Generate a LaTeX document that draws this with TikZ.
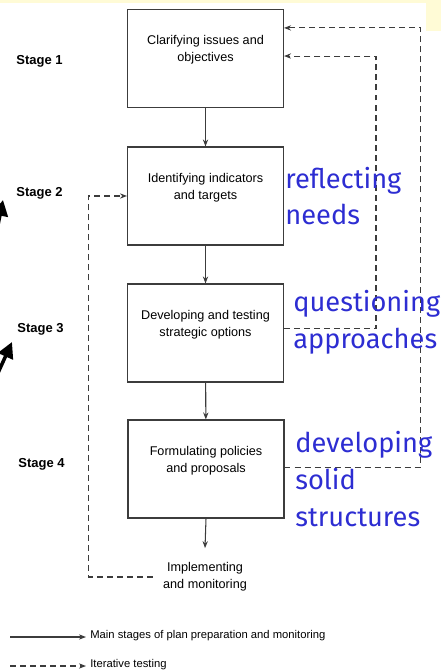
\documentclass[tikz,border=0pt]{standalone}
\usepackage{fontspec}
\setmainfont{Liberation Sans}
\newfontfamily\notefont{Fira Sans}
\usetikzlibrary{arrows.meta, calc, positioning}
\definecolor{inkgray}{RGB}{60,60,60}
\definecolor{noteblue}{RGB}{45,45,210}
\definecolor{slideyellow}{RGB}{255,251,214}
\tikzset{
    stageBox/.style={draw=inkgray, line width=0.6pt, minimum width=3.12cm, minimum height=1.96cm, inner sep=0pt},
    boxText/.style={align=center, font=\fontsize{7.2}{9.7}\selectfont, inner sep=0pt},
    stageLabel/.style={anchor=base west, font=\fontsize{7.4}{9}\selectfont\bfseries, inner sep=0pt},
    legendText/.style={anchor=west, font=\fontsize{6.4}{8}\selectfont, inner sep=0pt},
    noteText/.style={anchor=base west, align=left, text=noteblue, font=\notefont\fontsize{15.5}{21}\selectfont, inner sep=0pt},
    mainEdge/.style={-{Stealth[length=4pt, width=3pt]}, draw=inkgray, line width=0.6pt},
    iterEdge/.style={-{Stealth[length=4pt, width=3pt]}, draw=inkgray, line width=0.6pt, dash pattern=on 3.4pt off 2.3pt},
    pointer/.style={-{Triangle[length=9pt, width=9pt]}, line width=2pt},
}

\begin{document}
\begin{tikzpicture}[x=0.02cm, y=-0.02cm]
        \useasboundingbox (0,0) rectangle (441,671);
        \fill[slideyellow] (0,0) rectangle (441,3.5);
        \fill[slideyellow] (426,0) rectangle (441,31);

        % stages
        \node[stageBox] (clarify) at (205.5,58.5) {};
        \node[stageBox] (identify) at (205.5,196) {};
        \node[stageBox] (develop) at (205.5,333) {};
        \node[stageBox] (formulate) at (206,469) {};
        \node[boxText] (clarifyTxt) at ([yshift=4.8pt]clarify.center) {Clarifying issues and\\objectives};
        \node[boxText] (identifyTxt) at ([yshift=4.8pt]identify.center) {Identifying indicators\\and targets};
        \node[boxText] (developTxt) at ([yshift=4.8pt]develop.center) {Developing and testing\\strategic options};
        \node[boxText] (formulateTxt) at ([yshift=4.8pt]formulate.center) {Formulating policies\\and proposals};
        \node[boxText] (implement) at (205,577) {Implementing\\and monitoring};

        \node[stageLabel] (stage1) at (16,65) {Stage 1};
        \node[stageLabel] (stage2) at (16,197) {Stage 2};
        \node[stageLabel] (stage3) at (17,333) {Stage 3};
        \node[stageLabel] (stage4) at (18,467) {Stage 4};

        \draw[mainEdge] (clarify) -- (identify);
        \draw[mainEdge] (identify) -- (develop);
        \draw[mainEdge] (develop) -- (formulate);
        \draw[mainEdge] (formulate.south) -- ([yshift=8pt]implement.north);

        % iterative loops
        \draw[iterEdge] ([yshift=1.1pt]formulate.east) -- ++(136,0) |- ([yshift=17.4pt]clarify.east);
        \draw[iterEdge] ([yshift=2.3pt]develop.east) -- ++(92,0) |- ([yshift=1.4pt]clarify.east);
        \draw[iterEdge] ([xshift=-5.7pt]implement.west) -- ++(-64,0) |- (identify.west);

        % notes (base = last line)
        \node[noteText] (reflect) at (285,225) {reflecting\\needs};
        \node[noteText] (question) at (293,348) {questioning\\approaches};
        \node[noteText] (solid) at (295,526) {developing\\solid\\structures};

        \coordinate (ptrAFrom) at (-8,255);
        \coordinate (ptrATo) at (3,200);
        \coordinate (ptrBFrom) at (-12,395);
        \coordinate (ptrBTo) at (12,342);
        \draw[pointer] (ptrAFrom) -- (ptrATo);
        \draw[pointer] (ptrBFrom) -- (ptrBTo);

        % legend
        \coordinate (mainFrom) at (10,637);
        \coordinate (mainTo) at (86,637);
        \coordinate (iterFrom) at (10,666);
        \coordinate (iterTo) at (86,666);
        \draw[mainEdge] (mainFrom) -- (mainTo);
        \draw[iterEdge] (iterFrom) -- (iterTo);
        \node[legendText] (mainKey) at (90,636) {Main stages of plan preparation and monitoring};
        \node[legendText] (iterKey) at (90,665) {Iterative testing};

    \end{tikzpicture}
\end{document}
